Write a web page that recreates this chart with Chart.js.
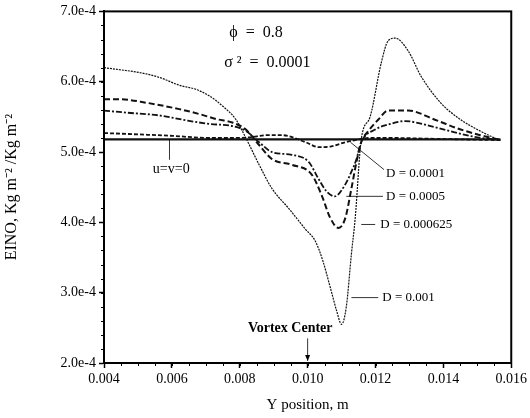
<!DOCTYPE html>
<html>
<head>
<meta charset="utf-8">
<script src="https://cdn.jsdelivr.net/npm/chart.js@4/dist/chart.umd.min.js"></script>
<style>
  html, body { margin: 0; padding: 0; background: #fff; }
  #wrap { width: 530px; height: 418px; }
</style>
</head>
<body>
<div id="wrap"><canvas id="chart" width="530" height="418"></canvas></div>
<script>
// values (EINO in Kg m-2 / Kg m-2, position in m)
const xD001 = [0.0040, 0.00447, 0.00505, 0.00564, 0.00622, 0.00672, 0.0071, 0.00748, 0.00789, 0.00818, 0.00857, 0.00895, 0.00944, 0.00994, 0.01023, 0.01045, 0.01067, 0.01085, 0.01100, 0.01114, 0.01129, 0.0114, 0.01158, 0.01184, 0.01217, 0.01237, 0.01258, 0.01296, 0.01334, 0.01392, 0.01451, 0.0150, 0.01568];
const yD001 = [6.20e-4, 6.17e-4, 6.13e-4, 6.06e-4, 5.95e-4, 5.89e-4, 5.80e-4, 5.66e-4, 5.46e-4, 5.20e-4, 4.82e-4, 4.48e-4, 4.20e-4, 3.90e-4, 3.73e-4, 3.45e-4, 3.07e-4, 2.75e-4, 2.55e-4, 2.80e-4, 3.55e-4, 4.05e-4, 5.18e-4, 5.50e-4, 6.27e-4, 6.58e-4, 6.62e-4, 6.44e-4, 6.08e-4, 5.70e-4, 5.46e-4, 5.32e-4, 5.16e-4];

const xD000625 = [0.0040, 0.00447, 0.00526, 0.00622, 0.00681, 0.0073, 0.00778, 0.00818, 0.00857, 0.00895, 0.00953, 0.01012, 0.01041, 0.01067, 0.01091, 0.01111, 0.01129, 0.01144, 0.01158, 0.01179, 0.01208, 0.01237, 0.01296, 0.01375, 0.01451, 0.01509, 0.01568];
const yD000625 = [5.75e-4, 5.75e-4, 5.70e-4, 5.61e-4, 5.54e-4, 5.47e-4, 5.42e-4, 5.32e-4, 5.10e-4, 4.90e-4, 4.82e-4, 4.68e-4, 4.39e-4, 4.06e-4, 3.92e-4, 4.06e-4, 4.48e-4, 4.86e-4, 5.14e-4, 5.30e-4, 5.46e-4, 5.59e-4, 5.59e-4, 5.46e-4, 5.32e-4, 5.24e-4, 5.17e-4];

const xD0005 = [0.0040, 0.00467, 0.00564, 0.00643, 0.0071, 0.00778, 0.00818, 0.00857, 0.00895, 0.00953, 0.01003, 0.01032, 0.01056, 0.0108, 0.01111, 0.01129, 0.01144, 0.01158, 0.01199, 0.01237, 0.01287, 0.01354, 0.01433, 0.0150, 0.01568];
const yD0005 = [5.59e-4, 5.56e-4, 5.52e-4, 5.45e-4, 5.40e-4, 5.37e-4, 5.30e-4, 5.14e-4, 5.00e-4, 4.96e-4, 4.86e-4, 4.62e-4, 4.44e-4, 4.37e-4, 4.54e-4, 4.72e-4, 4.90e-4, 5.14e-4, 5.32e-4, 5.39e-4, 5.44e-4, 5.38e-4, 5.28e-4, 5.21e-4, 5.17e-4];

const xD0001 = [0.0040, 0.00505, 0.00602, 0.0071, 0.0078, 0.0083, 0.0088, 0.00924, 0.00994, 0.01032, 0.0107, 0.01111, 0.0114, 0.0118, 0.0125, 0.0135, 0.0145, 0.01568];
const yD0001 = [5.27e-4, 5.25e-4, 5.23e-4, 5.20e-4, 5.20e-4, 5.21e-4, 5.24e-4, 5.24e-4, 5.14e-4, 5.07e-4, 5.08e-4, 5.14e-4, 5.17e-4, 5.20e-4, 5.20e-4, 5.19e-4, 5.18e-4, 5.17e-4];

const xStill = [0.0040, 0.01568];
const yStill = [5.18e-4, 5.18e-4];

const xTicks = { min: 0.004, max: 0.016, step: 0.002, minor: 0.0005 };
const yTicks = { min: 2e-4, max: 7e-4, step: 1e-4, minor: 0.2e-4 };

// text notes on the plot, in data units
const notes = [
    { text: 'ϕ  =  0.8', x: 0.00769, y: 6.69e-4, size: 16, bold: false },
    { text: 'σ ²  =  0.0001', x: 0.00754, y: 6.27e-4, size: 16, bold: false },
    { text: 'u=v=0', x: 0.00544, y: 4.76e-4, size: 14, bold: false },
    { text: 'D = 0.0001', x: 0.01231, y: 4.69e-4, size: 13, bold: false },
    { text: 'D = 0.0005', x: 0.01231, y: 4.37e-4, size: 13, bold: false },
    { text: 'D = 0.000625', x: 0.01214, y: 3.97e-4, size: 13, bold: false },
    { text: 'D = 0.001', x: 0.0122, y: 2.93e-4, size: 13, bold: false },
    { text: 'Vortex Center', x: 0.00824, y: 2.49e-4, size: 14, bold: true }
];
const leaders = [
    [0.00593, 5.18e-4, 0.00593, 4.89e-4],
    [0.01126, 5.14e-4, 0.01225, 4.75e-4],
    [0.01114, 4.37e-4, 0.01222, 4.37e-4],
    [0.01158, 3.97e-4, 0.01199, 3.97e-4],
    [0.01129, 2.93e-4, 0.01208, 2.93e-4]
];
const arrow = [0.010, 2.35e-4, 0.010, 2.03e-4];

const serif = '"Liberation Serif", "Times New Roman", serif';

function pts(xs, ys) {
    return xs.map((x, i) => ({ x, y: ys[i] }));
}

const frameAndNotes = {
    id: 'frameAndNotes',
    afterDatasetsDraw(chart) {
        const ctx = chart.ctx;
        const xs = chart.scales.x, ys = chart.scales.y;
        const a = chart.chartArea;
        ctx.save();
        ctx.strokeStyle = '#000';
        ctx.fillStyle = '#000';

        // minor ticks
        ctx.lineWidth = 1;
        for (let v = xTicks.min; v <= xTicks.max + 1e-9; v += xTicks.minor) {
            const px = Math.round(xs.getPixelForValue(v)) + 0.5;
            ctx.beginPath();
            ctx.moveTo(px, a.bottom);
            ctx.lineTo(px, a.bottom + 3);
            ctx.stroke();
        }
        for (let v = yTicks.min; v <= yTicks.max + 1e-12; v += yTicks.minor) {
            const py = Math.round(ys.getPixelForValue(v)) + 0.5;
            ctx.beginPath();
            ctx.moveTo(a.left - 3, py);
            ctx.lineTo(a.left, py);
            ctx.stroke();
        }

        // frame
        ctx.lineWidth = 2;
        ctx.strokeRect(a.left, a.top, a.right - a.left, a.bottom - a.top);

        // leader lines
        ctx.lineWidth = 0.8;
        leaders.forEach(l => {
            ctx.beginPath();
            ctx.moveTo(xs.getPixelForValue(l[0]), ys.getPixelForValue(l[1]));
            ctx.lineTo(xs.getPixelForValue(l[2]), ys.getPixelForValue(l[3]));
            ctx.stroke();
        });

        // vortex center arrow
        const ax = xs.getPixelForValue(arrow[0]);
        const ay1 = ys.getPixelForValue(arrow[1]);
        const ay2 = ys.getPixelForValue(arrow[3]);
        ctx.beginPath();
        ctx.moveTo(ax, ay1);
        ctx.lineTo(ax, ay2);
        ctx.stroke();
        ctx.beginPath();
        ctx.moveTo(ax - 2.5, ay2 - 6);
        ctx.lineTo(ax + 2.5, ay2 - 6);
        ctx.lineTo(ax, ay2);
        ctx.closePath();
        ctx.fill();

        // text notes
        ctx.textAlign = 'left';
        ctx.textBaseline = 'middle';
        notes.forEach(n => {
            ctx.font = (n.bold ? 'bold ' : '') + n.size + 'px ' + serif;
            ctx.fillText(n.text, xs.getPixelForValue(n.x), ys.getPixelForValue(n.y));
        });
        ctx.restore();
    }
};

const ink = '#111';

new Chart(document.getElementById('chart').getContext('2d'), {
    type: 'line',
    data: {
        datasets: [
            {
                label: 'u=v=0',
                data: pts(xStill, yStill),
                borderColor: ink,
                borderWidth: 2.2,
                pointRadius: 0
            },
            {
                label: 'D = 0.0001',
                data: pts(xD0001, yD0001),
                borderColor: ink,
                borderWidth: 1.8,
                borderDash: [4, 2],
                pointRadius: 0,
                cubicInterpolationMode: 'monotone'
            },
            {
                label: 'D = 0.0005',
                data: pts(xD0005, yD0005),
                borderColor: ink,
                borderWidth: 1.8,
                borderDash: [6, 2, 2, 2],
                pointRadius: 0,
                cubicInterpolationMode: 'monotone'
            },
            {
                label: 'D = 0.000625',
                data: pts(xD000625, yD000625),
                borderColor: ink,
                borderWidth: 2,
                borderDash: [6, 3],
                pointRadius: 0,
                cubicInterpolationMode: 'monotone'
            },
            {
                label: 'D = 0.001',
                data: pts(xD001, yD001),
                borderColor: '#111',
                borderWidth: 1.2,
                borderDash: [2, 1],
                pointRadius: 0,
                cubicInterpolationMode: 'monotone'
            }
        ]
    },
    options: {
        responsive: false,
        animation: false,
        layout: { padding: { left: 0, right: 16, top: 8, bottom: 0 } },
        plugins: {
            legend: { display: false },
            tooltip: { enabled: false }
        },
        scales: {
            x: {
                type: 'linear',
                min: xTicks.min,
                max: xTicks.max,
                afterFit: s => { s.height = 55; },
                ticks: {
                    stepSize: xTicks.step,
                    color: '#000',
                    padding: 3,
                    maxRotation: 0,
                    font: { family: serif, size: 14 },
                    callback: v => v.toFixed(3)
                },
                grid: { drawOnChartArea: false, tickLength: 5, tickColor: '#000', tickWidth: 1.5 },
                border: { color: '#000', width: 2 },
                title: {
                    display: true,
                    text: 'Y position, m',
                    color: '#000',
                    font: { family: serif, size: 15 },
                    padding: { top: 0, bottom: 4 }
                }
            },
            y: {
                min: yTicks.min,
                max: yTicks.max,
                afterFit: s => { s.width = 104; },
                ticks: {
                    stepSize: yTicks.step,
                    color: '#000',
                    padding: 3,
                    font: { family: serif, size: 14 },
                    callback: v => (v * 1e4).toFixed(1) + 'e-4'
                },
                grid: { drawOnChartArea: false, tickLength: 5, tickColor: '#000', tickWidth: 1.5 },
                border: { color: '#000', width: 2 },
                title: {
                    display: true,
                    text: 'EINO, Kg m⁻² /Kg m⁻²',
                    color: '#000',
                    font: { family: serif, size: 16 },
                    padding: { top: 2, bottom: 0 }
                }
            }
        }
    },
    plugins: [frameAndNotes]
});
</script>
</body>
</html>
